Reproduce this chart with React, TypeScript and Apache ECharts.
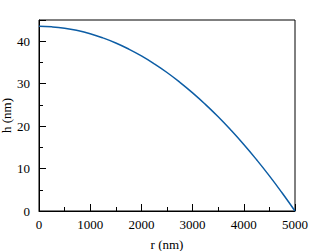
import React, { useEffect, useRef } from "react";
import * as echarts from "echarts";

const rValues = [0, 250, 500, 750, 1000, 1250, 1500, 1750, 2000, 2250, 2500, 2750, 3000, 3250, 3500, 3750, 4000, 4250, 4500, 4750, 5000];
const hValues = [43.5, 43.39, 43.07, 42.52, 41.76, 40.78, 39.59, 38.17, 36.54, 34.69, 32.63, 30.34, 27.84, 25.12, 22.19, 19.03, 15.66, 12.07, 8.27, 4.24, 0];

const FONT = "Liberation Serif";

export default function App() {
  const ref = useRef<HTMLDivElement>(null);
  useEffect(() => {
    if (!ref.current) return;
    const chart = echarts.init(ref.current, undefined, { renderer: "svg" });
    const axisCommon = {
      axisLine: { show: true, lineStyle: { color: "#000", width: 1 } },
      axisTick: { show: true, inside: true, length: 7, lineStyle: { color: "#000", width: 1 } },
      minorTick: { show: true, splitNumber: 2, length: 4, lineStyle: { color: "#000", width: 1 } },
      splitLine: { show: false },
      minorSplitLine: { show: false },
      nameTextStyle: { color: "#000", fontFamily: FONT, fontSize: 13 },
      nameLocation: "middle" as const,
      nameMoveOverlap: false,
    };
    const label = { color: "#000", fontFamily: FONT, fontSize: 13, formatter: (v: number) => String(v) };
    chart.setOption({
      animation: false,
      grid: {
        left: 39,
        right: 20,
        top: 20,
        bottom: 40,
        containLabel: false,
        outerBoundsMode: "none",
        show: true,
        borderColor: "#000",
        borderWidth: 1,
        backgroundColor: "transparent",
      },
      xAxis: {
        type: "value",
        min: 0,
        max: 5000,
        interval: 1000,
        name: "r (nm)",
        nameGap: 27,
        ...axisCommon,
        axisLabel: { ...label, margin: 7 },
      },
      yAxis: {
        type: "value",
        min: 0,
        max: 45,
        interval: 10,
        name: "h (nm)",
        nameGap: 26,
        ...axisCommon,
        axisLabel: { ...label, margin: 9, showMaxLabel: false },
      },
      series: [
        {
          type: "line",
          data: rValues.map((r, i) => [r, hValues[i]]),
          showSymbol: false,
          smooth: true,
          lineStyle: { color: "#0C5DA5", width: 1.5 },
        },
      ],
    });
    return () => chart.dispose();
  }, []);
  return <div ref={ref} style={{ width: 315, height: 251, position: "absolute", left: 0, top: 0 }} />;
}
